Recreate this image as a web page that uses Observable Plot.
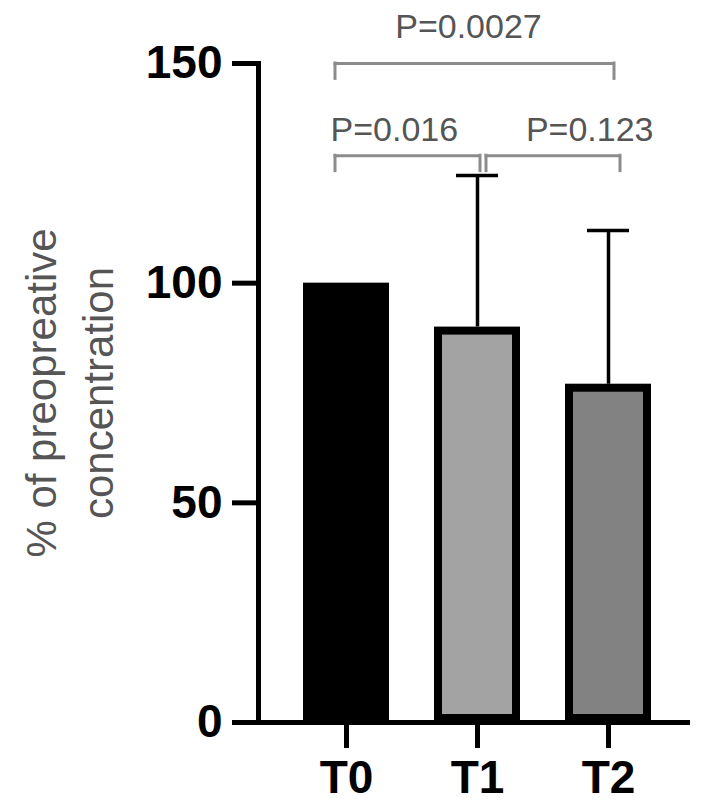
<!DOCTYPE html>
<html><head><meta charset="utf-8">
<script src="https://cdn.jsdelivr.net/npm/d3@7"></script>
<script src="https://cdn.jsdelivr.net/npm/@observablehq/plot@0.6"></script>
<style>
html,body{margin:0;padding:0;background:#fff;}
#chart svg{display:block;overflow:visible}
</style></head><body><div id="chart"></div>
<script>
// ---- data ----
const categories = ["T0", "T1", "T2"];
const means = [100, 90, 77];
const upperSD = [100, 124.5, 112];
const barColors = ["#000000", "#a3a3a3", "#828282"];
const yTicks = [0, 50, 100, 150];
const compFrom = ["T0", "T0", "T1"];
const compTo = ["T2", "T1", "T2"];
const compLevel = [150, 129, 129];
const compLabel = ["P=0.0027", "P=0.016", "P=0.123"];
const yLabel = "% of preopreative\nconcentration";

const bars = categories.map((c, i) => ({time: c, mean: means[i], upper: upperSD[i]}));
const errs = bars.filter(d => d.upper > d.mean);
const comps = compLabel.map((p, i) => ({from: compFrom[i], to: compTo[i], level: compLevel[i], p}));
const drop = 3.5;
const bracketColor = "#8c8c8c";
const pColor = "#555555";
const half = 43.5; // half of the band width (bandwidth 87)

// bracket drawing: horizontal rule from band start of `from` to band end of `to`, with insets; plus two drops
function bracket(i, insetL, insetR) {
  const d = [comps[i]];
  const st = {stroke: bracketColor, strokeWidth: 3, strokeLinecap: "square"};
  return [
    Plot.ruleY(d, {x1: "from", x2: "to", y: "level", insetLeft: insetL, insetRight: insetR, ...st}),
    Plot.ruleX(d, {x: "from", y1: "level", y2: v => v.level - drop, dx: insetL - half, ...st}),
    Plot.ruleX(d, {x: "to", y1: "level", y2: v => v.level - drop, dx: half - insetR, ...st})
  ];
}

const chart = Plot.plot({
  width: 709,
  height: 812,
  marginLeft: 258,
  marginRight: 19,
  marginTop: 63,
  marginBottom: 90,
  style: {fontFamily: "'Liberation Sans', Arial, sans-serif", background: "#fff"},
  x: {type: "band", domain: categories, range: [280, 675], paddingInner: 0.34, paddingOuter: 0.17, label: null},
  y: {domain: [0, 150], label: null},
  color: {domain: categories, range: barColors},
  marks: [
    Plot.barY(bars, {x: "time", y: "mean", fill: "time", stroke: "#000", strokeWidth: 8, inset: 4}),
    Plot.ruleX(errs, {x: "time", y1: "mean", y2: "upper", stroke: "#000", strokeWidth: 3.5}),
    Plot.tickY(errs, {x: "time", y: "upper", stroke: "#000", strokeWidth: 3.5, insetLeft: 22, insetRight: 22}),
    Plot.ruleY([0], {stroke: "#000", strokeWidth: 5}),
    Plot.frame({anchor: "left", stroke: "#000", strokeWidth: 5}),
    Plot.axisY({ticks: yTicks, tickSize: 26, tickPadding: 10, strokeWidth: 5, fontSize: 46, fontWeight: "bold", fill: "#000", tickFormat: d => String(d)}),
    Plot.axisX({tickSize: 26, tickPadding: 12, strokeWidth: 5, fontSize: 46, fontWeight: "bold", fill: "#000"}),
    // brackets
    ...bracket(0, 32, 38),
    ...bracket(1, 32, 41),
    ...bracket(2, 52, 32),
    // p-value labels
    Plot.text(comps.filter(d => d.p === "P=0.0027"), {x: "to", y: d => d.level + 5.9, text: "p", dx: -140, textAnchor: "middle", lineAnchor: "bottom", fontSize: 34, fill: pColor}),
    Plot.text(comps.filter(d => d.p === "P=0.016"), {x: "from", y: d => d.level + 3.3, text: "p", dx: -16, textAnchor: "start", lineAnchor: "bottom", fontSize: 34, fill: pColor}),
    Plot.text(comps.filter(d => d.p === "P=0.123"), {x: "to", y: d => d.level + 3.3, text: "p", dx: 45, textAnchor: "end", lineAnchor: "bottom", fontSize: 34, fill: pColor}),
    // y-axis title
    Plot.text([yLabel], {text: d => d, frameAnchor: "left", rotate: -90, dx: -192, textAnchor: "middle", lineAnchor: "middle", lineHeight: 1.36, fontSize: 42, fill: "#555"})
  ]
});
document.getElementById("chart").appendChild(chart);
</script>
</body></html>
